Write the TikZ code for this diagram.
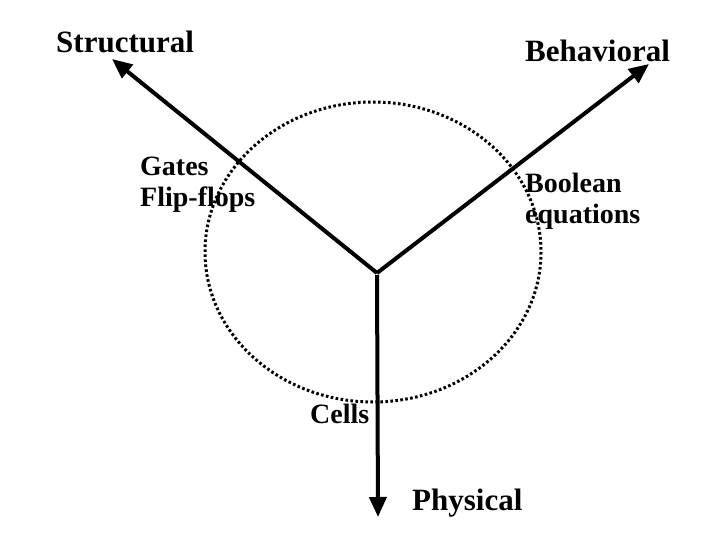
\documentclass[tikz,border=0pt]{standalone}
\usepackage{fontspec}
\setmainfont{Liberation Serif}
\usetikzlibrary{arrows.meta}

\begin{document}
\begin{tikzpicture}[
x=1pt, y=-1pt,
axis/.style={-{Triangle[length=20pt, width=17pt]}, line width=4pt, black},
lbl/.style={anchor=base west, inner sep=0pt, font=\fontsize{31}{33}\selectfont\bfseries},
level/.style={anchor=base west, inner sep=0pt, align=left, font=\fontsize{28}{31}\selectfont\bfseries},
ring/.style={line width=3pt, dash pattern=on 2.6pt off 2.4pt}
]
\useasboundingbox (0,0) rectangle (720,540);
\coordinate (hub) at (377,273);
\coordinate (sTip) at (112,59);
\coordinate (bTip) at (649,64);
\coordinate (pTip) at (378,517);
\draw[ring] (373,252) ellipse [x radius=168, y radius=150];
\draw[axis] (hub) -- (sTip);
\draw[axis] (hub) -- (bTip);
\draw[axis] ([yshift=-2pt]hub) -- (pTip);
\node[lbl] (structural) at (56,53) {Structural};
\node[lbl] (behavioral) at (525,62) {Behavioral};
\node[lbl] (physical) at (412,510) {Physical};
% multi-line nodes: base is the last line
\node[level] (gates) at (140,207) {Gates\\Flip-flops};
\node[level] (boolean) at (525,223) {Boolean\\equations};
\node[level] (cells) at (310,423) {Cells};
\end{tikzpicture}
\end{document}
